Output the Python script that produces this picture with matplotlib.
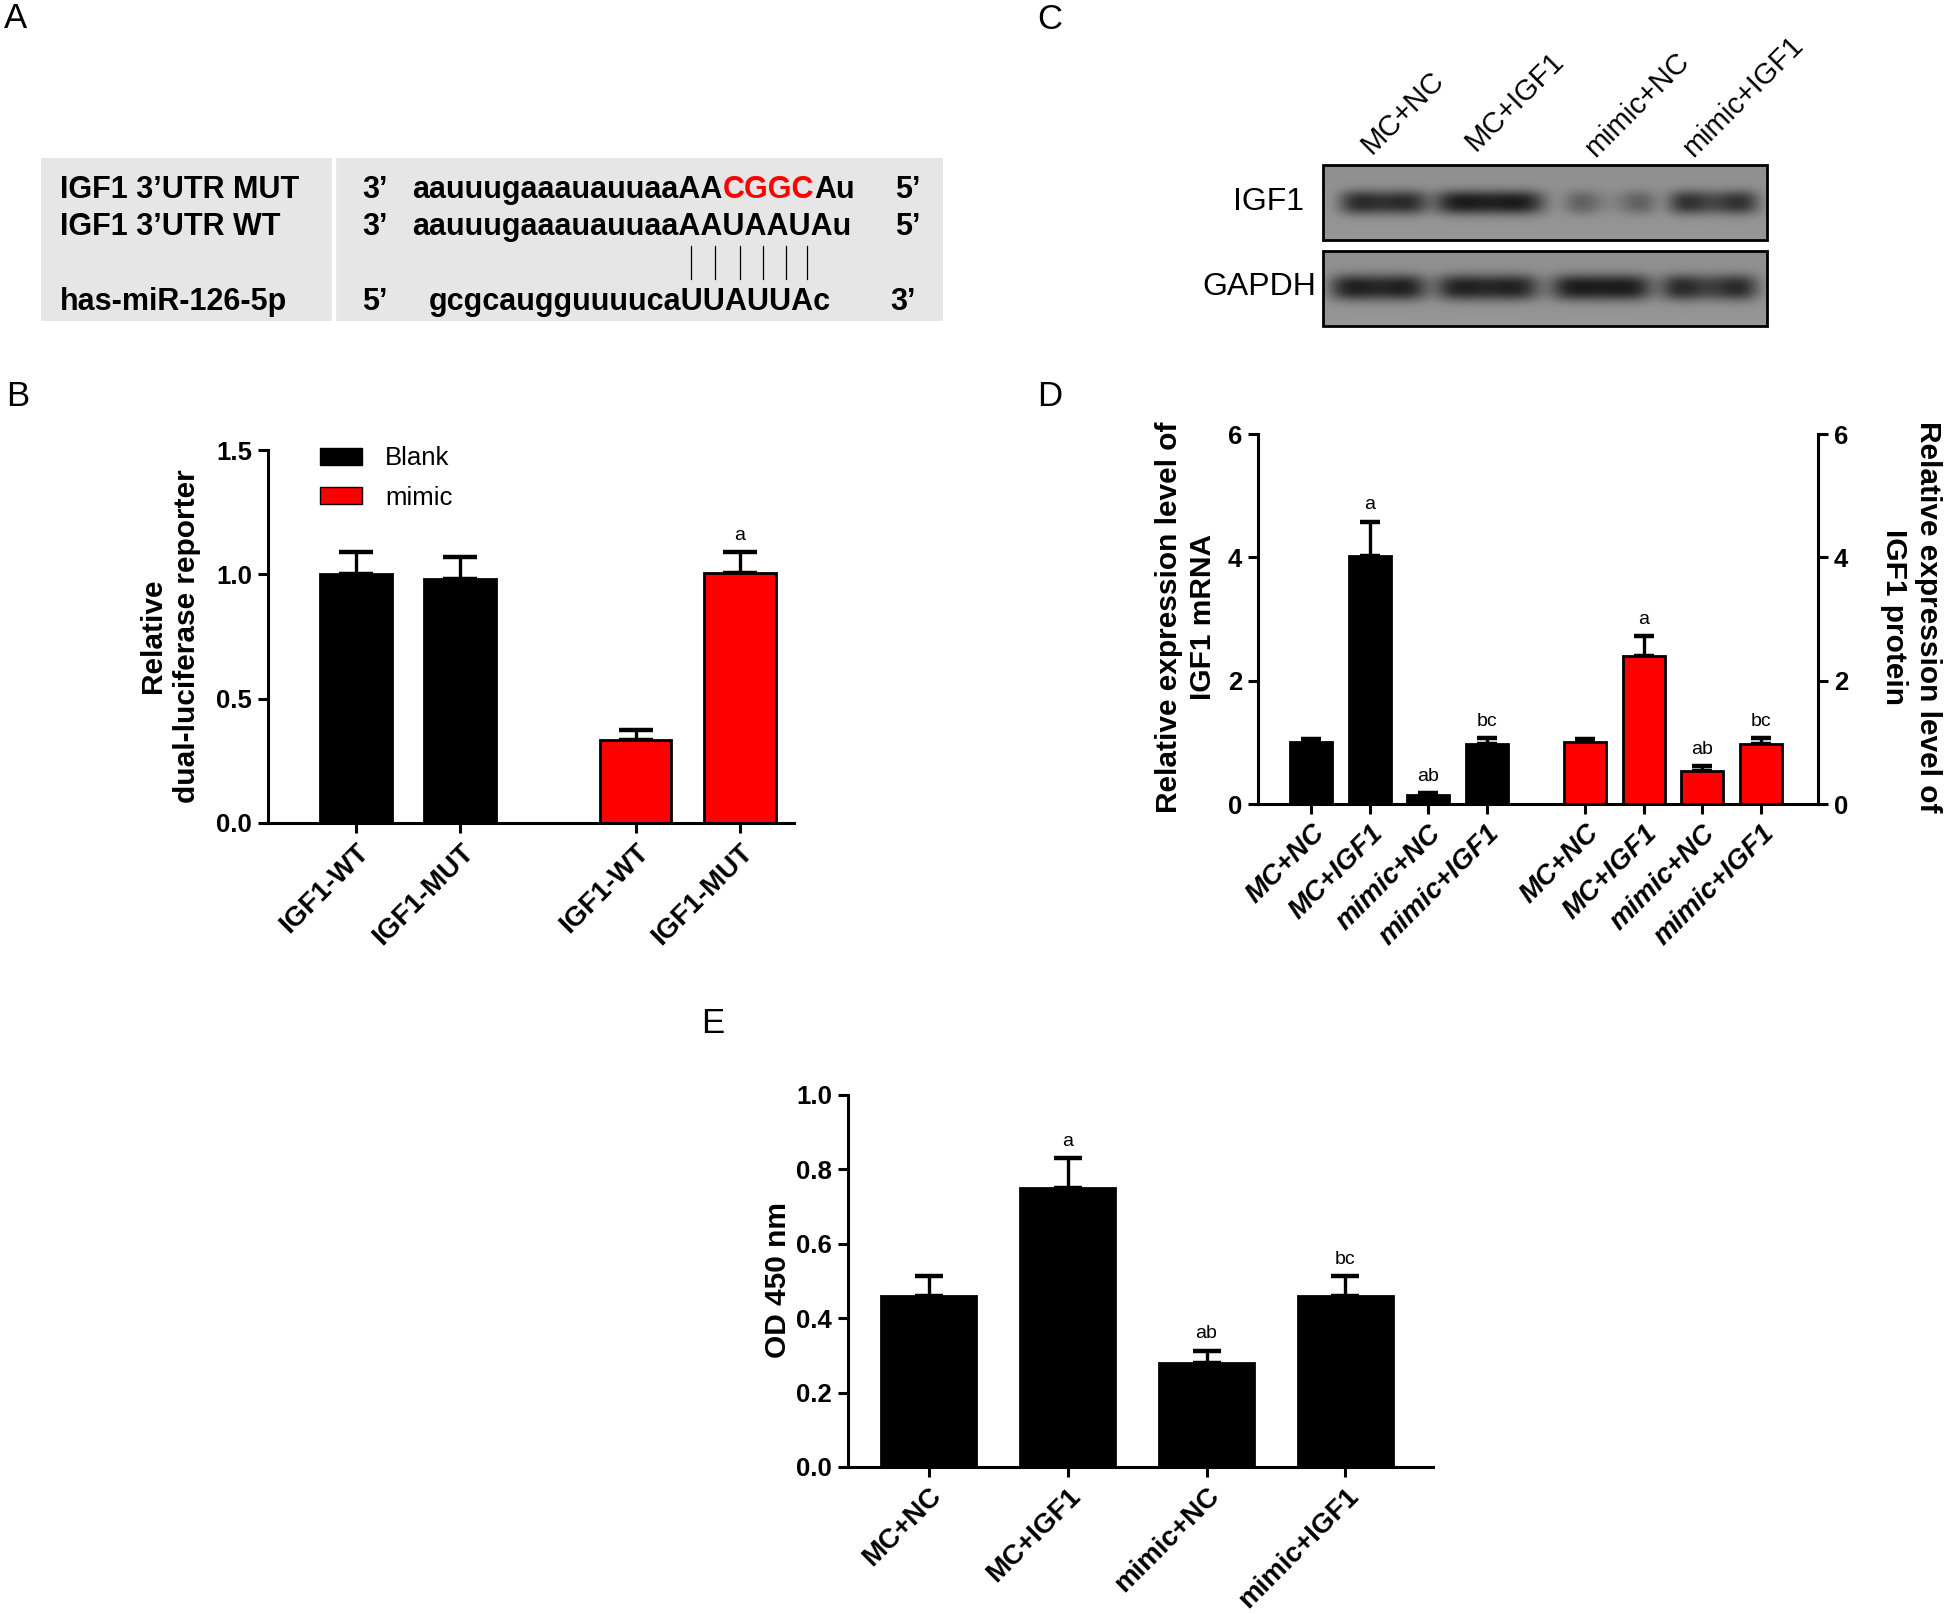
import matplotlib.pyplot as plt
import numpy as np
from matplotlib.patches import Patch, Rectangle

W, H = 1946, 1614

# ---- panel B: dual-luciferase reporter ----
luc_labels = ["IGF1-WT", "IGF1-MUT", "IGF1-WT", "IGF1-MUT"]
luc_group = ["Blank", "Blank", "mimic", "mimic"]
luc_values = [1.00, 0.98, 0.335, 1.005]
luc_err = [0.09, 0.09, 0.04, 0.085]
luc_marks = ["", "", "", "a"]

# ---- panel D: IGF1 mRNA / protein ----
groups = ["MC+NC", "MC+IGF1", "mimic+NC", "mimic+IGF1"]
mrna_values = [1.00, 4.02, 0.15, 0.97]
mrna_err = [0.06, 0.56, 0.03, 0.10]
mrna_marks = ["", "a", "ab", "bc"]
protein_values = [1.00, 2.40, 0.54, 0.97]
protein_err = [0.05, 0.32, 0.07, 0.10]
protein_marks = ["", "a", "ab", "bc"]

# ---- panel E: CCK-8 ----
od_values = [0.46, 0.75, 0.28, 0.46]
od_err = [0.053, 0.08, 0.033, 0.053]
od_marks = ["", "a", "ab", "bc"]

# ---- panel C: blot band darkness per lane ----
igf1_band = [0.88, 1.0, 0.5, 0.88]
igf1_dip = [0.12, 0.1, 0.75, 0.3]
gapdh_band = [0.97, 0.95, 0.97, 0.95]
gapdh_dip = [0.12, 0.1, 0.05, 0.3]

plt.rcParams["font.family"] = ["Liberation Sans", "DejaVu Sans"]
plt.rcParams["font.weight"] = "bold"
plt.rcParams["axes.labelweight"] = "bold"
TICK_FS = 18.5
XTICK_FS = 20
LABEL_FS = 21.5
MARK_FS = 14

fig = plt.figure(figsize=(W / 100, H / 100), dpi=100)
over = fig.add_axes([0, 0, 1, 1])
over.set_xlim(0, W)
over.set_ylim(H, 0)
over.axis("off")


def px_axes(left, top, right, bottom):
    ax = fig.add_axes([left / W, 1 - bottom / H, (right - left) / W, (bottom - top) / H])
    ax.set_facecolor("none")
    return ax


def style_axes(ax):
    for side in ("top", "right"):
        ax.spines[side].set_visible(False)
    for side in ("left", "bottom"):
        ax.spines[side].set_linewidth(2.2)
    ax.tick_params(direction="out", length=7.5, width=2.2, labelsize=TICK_FS, pad=4)
    ax.tick_params(axis="x", labelsize=XTICK_FS)


def draw_bars(ax, x, values, errs, colors, marks, width, capsize):
    ax.errorbar(x, values, yerr=[np.zeros(len(values)), errs], fmt="none",
                ecolor="black", elinewidth=2.4, capsize=capsize, capthick=3.2, zorder=1)
    ax.bar(x, values, width=width, color=colors, edgecolor="black", linewidth=2, zorder=2)
    for xi, v, e, m in zip(x, values, errs, marks):
        if m:
            ax.annotate(m, xy=(xi, v + e), xytext=(0, 6), textcoords="offset points",
                        ha="center", va="bottom", fontsize=MARK_FS, fontweight="normal")


# ---------------- panel letters ----------------
for letter, (lx, ly) in {"A": (4, 2), "B": (6, 380), "C": (1037, 3), "D": (1037, 380),
                         "E": (701, 1007)}.items():
    over.text(lx, ly, letter, fontsize=25, fontweight="normal", ha="left", va="top")

# ---------------- panel A ----------------
over.add_patch(Rectangle((41, 158), 902, 163, facecolor="#e6e6e6", edgecolor="none"))
over.plot([334, 334], [158, 321], color="white", lw=3)

A_FS = 22


def seq_text(x, y, parts):
    t = over.text(x, y, parts[0][0], color=parts[0][1], fontsize=A_FS,
                  ha="left", va="baseline")
    for s, c in parts[1:]:
        t = over.annotate(s, xy=(1, 0), xycoords=t, ha="left", va="bottom", color=c,
                          fontsize=A_FS)


rows = [
    (198, "IGF1 3’UTR MUT", "3’", [("aauuugaaauauuaaAA", "black"), ("CGGC", "#ff0000"), ("Au", "black")], 412, "5’", 895),
    (235, "IGF1 3’UTR WT", "3’", [("aauuugaaauauuaaAAUAAUAu", "black")], 412, "5’", 895),
    (310, "has-miR-126-5p", "5’", [("gcgcaugguuuucaUUAUUAc", "black")], 429, "3’", 890),
]
for y, name, end_l, parts, sx, end_r, rx in rows:
    over.text(60, y, name, fontsize=A_FS, ha="left", va="baseline")
    over.text(362, y, end_l, fontsize=A_FS, ha="left", va="baseline")
    seq_text(sx, y, parts)
    over.text(rx, y, end_r, fontsize=A_FS, ha="left", va="baseline")

for lx in [691, 715, 740, 763, 786, 807]:
    over.plot([lx, lx], [246, 279], color="black", lw=0.9)

# ---------------- panel C (blot) ----------------
lane_anchor = [(1372, 155), (1476, 152), (1595, 158), (1693, 158)]
for name, (ax_, ay_) in zip(groups, lane_anchor):
    over.text(ax_, ay_, name, rotation=45, rotation_mode="anchor", ha="left", va="baseline",
              fontsize=21, fontweight="normal")


def blot(box, centers, widths, strengths, dips, cy, hh):
    x0, y0, x1, y1 = box
    X, Y = np.meshgrid(np.arange(x0, x1), np.arange(y0, y1))
    img = 0.56 + 0.03 * (Y - y0) / (y1 - y0)
    for c, w, s, d in zip(centers, widths, strengths, dips):
        u = (X - c) / (w / 2)
        prof = np.exp(-np.abs(u) ** 5) * (1 - d * np.exp(-u ** 2 / 0.25))
        img = img - 0.5 * s * prof * np.exp(-np.abs((Y - cy) / hh) ** 2.5)
    over.imshow(img, cmap="gray", vmin=0, vmax=1, extent=(x0, x1, y1, y0),
                interpolation="bilinear", aspect="auto")
    over.add_patch(Rectangle((x0, y0), x1 - x0, y1 - y0, fill=False, edgecolor="black", lw=2))


blot((1323, 165, 1767, 240), [1383, 1489, 1610, 1713], [86, 108, 88, 88],
     igf1_band, igf1_dip, 202, 12)
blot((1323, 251, 1767, 326), [1378, 1487, 1601, 1709], [95, 102, 100, 95],
     gapdh_band, gapdh_dip, 287, 13)
over.set_xlim(0, W)
over.set_ylim(H, 0)
over.text(1304, 202, "IGF1", ha="right", va="center", fontsize=23, fontweight="normal")
over.text(1316, 287, "GAPDH", ha="right", va="center", fontsize=23, fontweight="normal")

# ---------------- panel B ----------------
axB = px_axes(268, 450, 794, 823)
style_axes(axB)
xB = [0, 1, 2.68, 3.68]
colB = ["black" if g == "Blank" else "#ff0000" for g in luc_group]
draw_bars(axB, xB, luc_values, luc_err, colB, luc_marks, 0.69, 12.5)
axB.set_xlim(-0.845, 4.2)
axB.set_ylim(0, 1.5)
axB.set_yticks([0, 0.5, 1.0, 1.5])
axB.set_yticklabels([f"{v:.1f}" for v in [0, 0.5, 1.0, 1.5]])
axB.set_xticks(xB)
axB.set_xticklabels(luc_labels, rotation=45, ha="right", va="top", rotation_mode="anchor")
axB.set_ylabel("Relative\ndual-luciferase reporter", fontsize=LABEL_FS, va="center", linespacing=1.25)
axB.yaxis.set_label_coords(-0.186, 0.501)
axB.legend(handles=[Patch(facecolor="black", edgecolor="black", label="Blank"),
                    Patch(facecolor="#ff0000", edgecolor="black", label="mimic")],
           loc="upper left", bbox_to_anchor=(0.099, 1.01), frameon=False,
           prop={"size": 18.5, "weight": "normal"}, handlelength=1.63, handleheight=0.67,
           labelspacing=0.6, handletextpad=0.9, borderpad=0, borderaxespad=0)

# ---------------- panel D ----------------
axD = px_axes(1258, 434, 1818, 804)
style_axes(axD)
xD_m = [0, 1, 2, 3]
xD_p = [4.69, 5.69, 6.69, 7.69]
draw_bars(axD, xD_m, mrna_values, mrna_err, "black", mrna_marks, 0.72, 7)
draw_bars(axD, xD_p, protein_values, protein_err, "#ff0000", protein_marks, 0.72, 7)
axD.set_xlim(-0.91, 8.67)
axD.set_ylim(0, 6)
axD.set_yticks([0, 2, 4, 6])
axD.set_xticks(xD_m + xD_p)
axD.set_xticklabels(groups + groups, rotation=45, ha="right", va="top",
                    rotation_mode="anchor", fontstyle="italic")
axD.set_ylabel("Relative expression level of\nIGF1 mRNA", fontsize=LABEL_FS, va="center",
               linespacing=1.25)
axD.yaxis.set_label_coords(-0.129, 0.505)
axD2 = axD.twinx()
axD2.set_facecolor("none")
axD2.set_ylim(0, 6)
axD2.set_yticks([0, 2, 4, 6])
for side in ("top", "left", "bottom"):
    axD2.spines[side].set_visible(False)
axD2.spines["right"].set_linewidth(2.2)
axD2.tick_params(direction="out", length=7.5, width=2.2, labelsize=TICK_FS, pad=4)
axD2.set_ylabel("Relative expression level of\nIGF1 protein", fontsize=LABEL_FS,
                rotation=270, va="center", linespacing=1.25)
axD2.yaxis.set_label_coords(1.166, 0.505)

# ---------------- panel E ----------------
axE = px_axes(848, 1095, 1433, 1467)
style_axes(axE)
xE = [0, 1, 2, 3]
draw_bars(axE, xE, od_values, od_err, "black", od_marks, 0.68, 10)
axE.set_xlim(-0.58, 3.63)
axE.set_ylim(0, 1.0)
axE.set_yticks(np.arange(0, 1.01, 0.2))
axE.set_yticklabels([f"{v:.1f}" for v in np.arange(0, 1.01, 0.2)])
axE.set_xticks(xE)
axE.set_xticklabels(groups, rotation=45, ha="right", va="top", rotation_mode="anchor")
axE.set_ylabel("OD 450 nm", fontsize=LABEL_FS, va="center")
axE.yaxis.set_label_coords(-0.12, 0.503)

fig.savefig("out.png", dpi=100)
